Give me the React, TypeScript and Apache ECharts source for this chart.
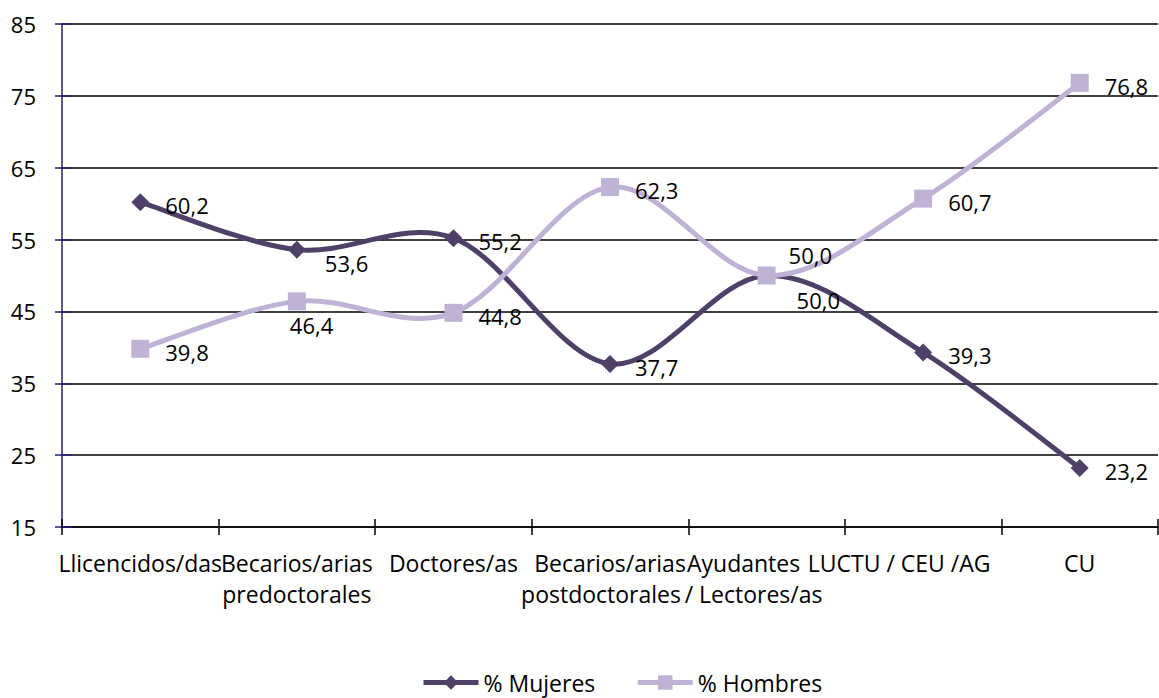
import React, { useEffect, useRef } from "react";
import * as echarts from "echarts";

const categories = [
  "Llicencidos/das",
  "Becarios/arias\npredoctorales",
  "Doctores/as",
  "Becarios/arias\npostdoctorales",
  "Ayudantes\n/ Lectores/as",
  "LUCTU / CEU /AG",
  "CU",
];
const mujeres = [60.2, 53.6, 55.2, 37.7, 50.0, 39.3, 23.2];
const hombres = [39.8, 46.4, 44.8, 62.3, 50.0, 60.7, 76.8];
const yTicks = { min: 15, max: 85, interval: 10 };

// label nudges (style, not data)
const mujeresLabelShift: Record<number, [number, number]> = { 1: [3, 13], 4: [5, 24] };
const hombresLabelShift: Record<number, [number, number]> = { 1: [-32, 24], 4: [-3, -21] };
// per-line right padding for category labels (shifts centred lines left)
const catLinePad: Record<number, number[]> = { 3: [0, 18], 4: [46, 26], 5: [48] };

const DARK = "#4F4068";
const LIGHT = "#BFB2D5";
const FONT = "'Open Sans', sans-serif";

const fmt = (v: number) => v.toFixed(1).replace(".", ",");

function buildData(values: number[], shift: Record<number, [number, number]>) {
  return values.map((v, i) =>
    shift[i] ? { value: v, label: { offset: shift[i] } } : { value: v }
  );
}

// Excel-like (Catmull-Rom) smoothed segments drawn through the axes' scales
function curveSeries(id: string, values: number[], color: string, z: number) {
  return {
    id,
    name: id,
    type: "custom",
    z,
    silent: true,
    data: values.map((v, i) => [i, v]),
    encode: { x: 0, y: 1 },
    renderItem: (params: any, api: any) => {
      const i = params.dataIndex;
      const n = values.length;
      if (i >= n - 1) return null;
      const pt = (j: number) => {
        const k = Math.max(0, Math.min(n - 1, j));
        return api.coord([k, values[k]]);
      };
      const p0 = pt(i - 1);
      const p1 = pt(i);
      const p2 = pt(i + 1);
      const p3 = pt(i + 2);
      const t = 1 / 6;
      return {
        type: "bezierCurve",
        shape: {
          x1: p1[0],
          y1: p1[1],
          x2: p2[0],
          y2: p2[1],
          cpx1: p1[0] + (p2[0] - p0[0]) * t,
          cpy1: p1[1] + (p2[1] - p0[1]) * t,
          cpx2: p2[0] - (p3[0] - p1[0]) * t,
          cpy2: p2[1] - (p3[1] - p1[1]) * t,
        },
        style: { stroke: color, lineWidth: 5, fill: "none", lineCap: "round" },
      };
    },
  };
}

export default function App() {
  const ref = useRef<HTMLDivElement>(null);
  useEffect(() => {
    if (!ref.current) return;
    const chart = echarts.init(ref.current, undefined, { renderer: "svg" });
    const labelCommon = {
      show: true,
      position: "right" as const,
      distance: 16,
      offset: [0, 3],
      color: "#000",
      fontFamily: FONT,
      fontSize: 22,
      formatter: (p: any) => fmt(p.value),
    };
    const rich: Record<string, any> = {};
    for (let p = 0; p <= 60; p += 2) {
      rich["p" + p] = {
        padding: [0, p, 0, 0],
        color: "#000",
        fontFamily: FONT,
        fontSize: 23,
        lineHeight: 31,
      };
    }
    chart.setOption({
      animation: false,
      backgroundColor: "#fff",
      grid: { left: 62, right: 1, top: 24, bottom: 171, containLabel: false },
      legend: {
        left: 416,
        top: 666,
        itemWidth: 55,
        itemHeight: 18,
        itemGap: 40,
        textStyle: { fontFamily: FONT, fontSize: 23, color: "#000" },
        data: [
          { name: "% Mujeres", lineStyle: { color: DARK, width: 5, opacity: 1 }, itemStyle: { color: DARK } },
          { name: "% Hombres", lineStyle: { color: LIGHT, width: 5, opacity: 1 }, itemStyle: { color: LIGHT } },
        ],
      },
      xAxis: [
        {
          type: "category",
          data: categories,
          boundaryGap: true,
          axisLine: { lineStyle: { color: "#000", width: 1.5 } },
          axisTick: { show: true, length: 8, lineStyle: { color: "#000", width: 1.5 } },
          axisLabel: {
            interval: 0,
            margin: 20,
            color: "#000",
            fontFamily: FONT,
            fontSize: 23,
            lineHeight: 31,
            rich,
            formatter: (val: string, idx: number) => {
              const pads = catLinePad[idx];
              return val
                .split("\n")
                .map((line, k) => {
                  const p = pads && pads[k] ? pads[k] : 0;
                  return "{p" + p + "|" + line + "}";
                })
                .join("\n");
            },
          },
          splitLine: { show: false },
        },
        {
          type: "category",
          data: categories,
          position: "bottom",
          boundaryGap: true,
          axisLine: { show: false },
          axisTick: { show: true, inside: true, length: 8, lineStyle: { color: "#000", width: 1.5 } },
          axisLabel: { show: false },
          splitLine: { show: false },
        },
      ],
      yAxis: [
        {
          type: "value",
          min: yTicks.min,
          max: yTicks.max,
          interval: yTicks.interval,
          axisLine: { show: true, lineStyle: { color: "#1F1F78", width: 1.5 } },
          axisTick: { show: true, length: 7, lineStyle: { color: "#1F1F78", width: 1.5 } },
          axisLabel: { margin: 26, color: "#000", fontFamily: FONT, fontSize: 22 },
          splitLine: { show: true, lineStyle: { color: "#000", width: 1.5 } },
        },
        {
          type: "value",
          position: "left",
          min: yTicks.min,
          max: yTicks.max,
          interval: yTicks.interval,
          axisLine: { show: false },
          axisTick: { show: true, inside: true, length: 10, lineStyle: { color: "#1F1F78", width: 1.5 } },
          axisLabel: { show: false },
          splitLine: { show: false },
        },
      ],
      series: [
        curveSeries("curve-mujeres", mujeres, DARK, 2),
        {
          name: "% Mujeres",
          type: "line",
          data: buildData(mujeres, mujeresLabelShift),
          symbol: "diamond",
          symbolSize: 18,
          lineStyle: { color: DARK, width: 5, opacity: 0 },
          itemStyle: { color: DARK },
          label: labelCommon,
          z: 3,
        },
        curveSeries("curve-hombres", hombres, LIGHT, 4),
        {
          name: "% Hombres",
          type: "line",
          data: buildData(hombres, hombresLabelShift),
          symbol: "rect",
          symbolSize: 18,
          lineStyle: { color: LIGHT, width: 5, opacity: 0 },
          itemStyle: { color: LIGHT },
          label: labelCommon,
          z: 5,
        },
      ],
    });
    return () => chart.dispose();
  }, []);
  return (
    <div
      ref={ref}
      style={{ position: "fixed", left: 0, top: 0, width: 1159, height: 698, background: "#fff" }}
    />
  );
}
